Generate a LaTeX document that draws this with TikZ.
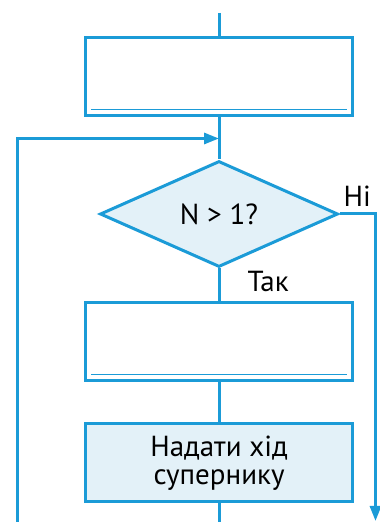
\documentclass[tikz,border=0pt]{standalone}
\usepackage{fontspec}
\setmainfont{PT Sans}
\usetikzlibrary{arrows.meta,positioning,shapes.geometric,calc}
\definecolor{flowblue}{HTML}{1B9BD7}
\definecolor{flowfill}{HTML}{E3F1F8}

\begin{document}
\begin{tikzpicture}[
    x=1pt, y=1pt,
    every node/.style={font=\fontsize{29}{28}\selectfont},
    blk/.style={draw=flowblue, line width=3pt, minimum width=267pt, minimum height=78pt, align=center, inner sep=0pt},
    cond/.style={diamond, draw=flowblue, line width=3pt, fill=flowfill, minimum width=238pt, minimum height=106pt, inner sep=0pt},
    inner/.style={draw=flowblue, line width=1.4pt},
    flow/.style={draw=flowblue, line width=3pt},
    loop/.style={flow, -{Triangle[length=15pt, width=11pt]}},
    lbl/.style={anchor=base west, inner sep=0pt}
  ]
    \useasboundingbox (0,0) rectangle (380,522);

    \node[blk] (init) at (219,445) {};
    \node[cond, below=42pt of init] (check) {N > 1?};
    \node[blk, below=33pt of check] (move) {};
    \node[blk, fill=flowfill, below=40pt of move] (pass) {Надати хід\\супернику};

    \coordinate (top) at (219,509);
    \coordinate (bot) at (219,0);
    \coordinate (lb) at (17,0);
    \coordinate (rb) at (375.5,1);
    \coordinate (lj) at ($(init.south)!0.5!(check.north)$);

    % lines under the box tops
    \draw[inner] ([xshift=7pt, yshift=8pt]init.south west) -- ([xshift=-7pt, yshift=8pt]init.south east);
    \draw[inner] ([xshift=7pt, yshift=8pt]move.south west) -- ([xshift=-7pt, yshift=8pt]move.south east);

    \draw[flow] (top) -- (init.north);
    \draw[flow] (init.south) -- (check.north);
    \draw[flow] (check.south) -- node[lbl, xshift=27pt, yshift=-7pt] (yes) {Так} (move.north);
    \draw[flow] (move.south) -- (pass.north);
    \draw[flow] (pass.south) -- (bot);
    \draw[loop] (lb) |- (lj);
    \draw[loop] (check.east) -| (rb);
    \node[lbl] (no) at ([xshift=4pt, yshift=7pt]check.east) {Ні};
  \end{tikzpicture}
\end{document}
